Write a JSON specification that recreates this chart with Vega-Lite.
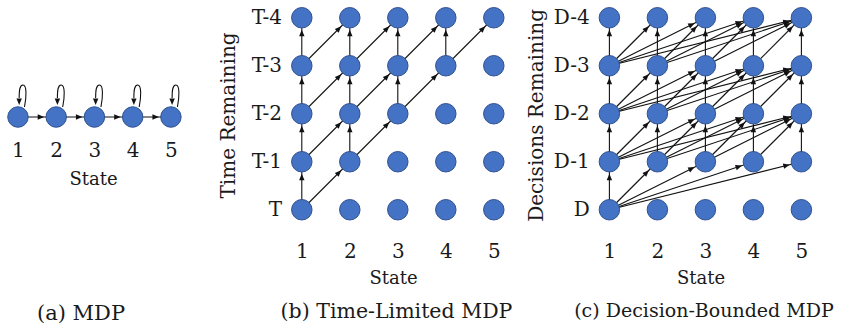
{
  "$schema": "https://vega.github.io/schema/vega-lite/v6.json",
  "padding": 0,
  "background": "white",
  "config": {
    "view": {"stroke": null},
    "font": "DejaVu Serif",
    "axis": {"labelFont": "DejaVu Serif", "titleFont": "DejaVu Serif", "labelFontSize": 20, "titleFontSize": 20, "titleFontWeight": "normal", "labelColor": "#1a1a1a", "titleColor": "#1a1a1a", "grid": false, "ticks": false, "tickSize": 0, "domain": false},
    "axisX": {"titleFontSize": 18},
    "title": {"font": "DejaVu Serif", "fontSize": 20, "fontWeight": "normal", "color": "#1a1a1a"}
  },
  "datasets": {
    "nodesA": [{"s":1,"l":0},{"s":2,"l":0},{"s":3,"l":0},{"s":4,"l":0},{"s":5,"l":0}],
    "edgesA": [{"s":1,"l":0,"s2":2,"l2":0},{"s":2,"l":0,"s2":3,"l2":0},{"s":3,"l":0,"s2":4,"l2":0},{"s":4,"l":0,"s2":5,"l2":0}],
    "nodes": [
      {"s":1,"l":0},{"s":2,"l":0},{"s":3,"l":0},{"s":4,"l":0},{"s":5,"l":0},
      {"s":1,"l":1},{"s":2,"l":1},{"s":3,"l":1},{"s":4,"l":1},{"s":5,"l":1},
      {"s":1,"l":2},{"s":2,"l":2},{"s":3,"l":2},{"s":4,"l":2},{"s":5,"l":2},
      {"s":1,"l":3},{"s":2,"l":3},{"s":3,"l":3},{"s":4,"l":3},{"s":5,"l":3},
      {"s":1,"l":4},{"s":2,"l":4},{"s":3,"l":4},{"s":4,"l":4},{"s":5,"l":4}
    ],
    "edgesB": [
      {"s":1,"l":0,"s2":1,"l2":1},{"s":1,"l":0,"s2":2,"l2":1},
      {"s":1,"l":1,"s2":1,"l2":2},{"s":1,"l":1,"s2":2,"l2":2},{"s":2,"l":1,"s2":2,"l2":2},{"s":2,"l":1,"s2":3,"l2":2},
      {"s":1,"l":2,"s2":1,"l2":3},{"s":1,"l":2,"s2":2,"l2":3},{"s":2,"l":2,"s2":2,"l2":3},{"s":2,"l":2,"s2":3,"l2":3},{"s":3,"l":2,"s2":3,"l2":3},{"s":3,"l":2,"s2":4,"l2":3},
      {"s":1,"l":3,"s2":1,"l2":4},{"s":1,"l":3,"s2":2,"l2":4},{"s":2,"l":3,"s2":2,"l2":4},{"s":2,"l":3,"s2":3,"l2":4},{"s":3,"l":3,"s2":3,"l2":4},{"s":3,"l":3,"s2":4,"l2":4},{"s":4,"l":3,"s2":4,"l2":4},{"s":4,"l":3,"s2":5,"l2":4}
    ],
    "edgesC": [
      {"s":1,"l":0,"s2":1,"l2":1},{"s":1,"l":0,"s2":2,"l2":1},{"s":1,"l":0,"s2":3,"l2":1},{"s":1,"l":0,"s2":4,"l2":1},{"s":1,"l":0,"s2":5,"l2":1},
      {"s":1,"l":1,"s2":1,"l2":2},{"s":1,"l":1,"s2":2,"l2":2},{"s":1,"l":1,"s2":3,"l2":2},{"s":1,"l":1,"s2":4,"l2":2},{"s":1,"l":1,"s2":5,"l2":2},
      {"s":2,"l":1,"s2":2,"l2":2},{"s":2,"l":1,"s2":3,"l2":2},{"s":2,"l":1,"s2":4,"l2":2},{"s":2,"l":1,"s2":5,"l2":2},
      {"s":3,"l":1,"s2":3,"l2":2},{"s":3,"l":1,"s2":4,"l2":2},{"s":3,"l":1,"s2":5,"l2":2},
      {"s":4,"l":1,"s2":4,"l2":2},{"s":4,"l":1,"s2":5,"l2":2},
      {"s":5,"l":1,"s2":5,"l2":2},
      {"s":1,"l":2,"s2":1,"l2":3},{"s":1,"l":2,"s2":2,"l2":3},{"s":1,"l":2,"s2":3,"l2":3},{"s":1,"l":2,"s2":4,"l2":3},{"s":1,"l":2,"s2":5,"l2":3},
      {"s":2,"l":2,"s2":2,"l2":3},{"s":2,"l":2,"s2":3,"l2":3},{"s":2,"l":2,"s2":4,"l2":3},{"s":2,"l":2,"s2":5,"l2":3},
      {"s":3,"l":2,"s2":3,"l2":3},{"s":3,"l":2,"s2":4,"l2":3},{"s":3,"l":2,"s2":5,"l2":3},
      {"s":4,"l":2,"s2":4,"l2":3},{"s":4,"l":2,"s2":5,"l2":3},
      {"s":5,"l":2,"s2":5,"l2":3},
      {"s":1,"l":3,"s2":1,"l2":4},{"s":1,"l":3,"s2":2,"l2":4},{"s":1,"l":3,"s2":3,"l2":4},{"s":1,"l":3,"s2":4,"l2":4},{"s":1,"l":3,"s2":5,"l2":4},
      {"s":2,"l":3,"s2":2,"l2":4},{"s":2,"l":3,"s2":3,"l2":4},{"s":2,"l":3,"s2":4,"l2":4},{"s":2,"l":3,"s2":5,"l2":4},
      {"s":3,"l":3,"s2":3,"l2":4},{"s":3,"l":3,"s2":4,"l2":4},{"s":3,"l":3,"s2":5,"l2":4},
      {"s":4,"l":3,"s2":4,"l2":4},{"s":4,"l":3,"s2":5,"l2":4},
      {"s":5,"l":3,"s2":5,"l2":4}
    ]
  },
  "spacing": 31.6,
  "hconcat": [
    {
      "width": 186.2,
      "height": 117,
      "title": {"text": "(a) MDP", "orient": "bottom", "anchor": "start", "dx": 37, "offset": 115, "fontSize": 21},
      "layer": [
        {
          "data": {"name": "edgesA"},
          "mark": {"type": "rule", "color": "#111", "strokeWidth": 1.1},
          "encoding": {
            "x": {"field": "s", "type": "quantitative", "scale": {"domain": [0.53, 5.4]}, "axis": {"values": [1,2,3,4,5], "format": "d", "title": "State", "labelPadding": 23, "titlePadding": 10}},
            "x2": {"field": "s2"},
            "y": {"field": "l", "type": "quantitative", "scale": {"domain": [0, 1]}, "axis": null},
            "y2": {"field": "l2"}
          }
        },
        {
          "data": {"name": "nodesA"},
          "mark": {"type": "point", "shape": "circle", "filled": true, "size": 420, "fill": "#4472C4", "stroke": "#2F528F", "strokeWidth": 1, "opacity": 1},
          "encoding": {
            "x": {"field": "s", "type": "quantitative", "scale": {"domain": [0.53, 5.4]}, "axis": {"values": [1,2,3,4,5], "format": "d", "title": "State", "labelPadding": 23, "titlePadding": 10}},
            "y": {"field": "l", "type": "quantitative", "scale": {"domain": [0, 1]}, "axis": null}
          }
        },
        {
          "data": {"name": "nodesA"},
          "mark": {"type": "point", "shape": "M6.5,-10C8.5,-20 9,-32 5,-32C1.5,-32 1.2,-26 1.2,-19", "filled": false, "color": "#111", "strokeWidth": 1.1, "size": 4, "opacity": 1},
          "encoding": {
            "x": {"field": "s", "type": "quantitative", "scale": {"domain": [0.53, 5.4]}, "axis": {"values": [1,2,3,4,5], "format": "d", "title": "State", "labelPadding": 23, "titlePadding": 10}},
            "y": {"field": "l", "type": "quantitative", "scale": {"domain": [0, 1]}, "axis": null}
          }
        },
        {
          "data": {"name": "nodesA"},
          "mark": {"type": "point", "shape": "M1.2,-12L-1.5,-18.5L3.9,-18.5Z", "filled": true, "color": "#111", "strokeWidth": 0, "size": 4, "opacity": 1},
          "encoding": {
            "x": {"field": "s", "type": "quantitative", "scale": {"domain": [0.53, 5.4]}, "axis": {"values": [1,2,3,4,5], "format": "d", "title": "State", "labelPadding": 23, "titlePadding": 10}},
            "y": {"field": "l", "type": "quantitative", "scale": {"domain": [0, 1]}, "axis": null}
          }
        },
        {
          "data": {"name": "edgesA"},
          "mark": {"type": "point", "shape": "M0,12L-2.7,18.5L2.7,18.5Z", "filled": true, "color": "#111", "strokeWidth": 0, "size": 4, "opacity": 1, "angle": {"expr": "atan2(datum.s2 - datum.s, datum.l2 - datum.l) * 180 / PI"}},
          "encoding": {
            "x": {"field": "s2", "type": "quantitative", "scale": {"domain": [0.53, 5.4]}, "axis": {"values": [1,2,3,4,5], "format": "d", "title": "State", "labelPadding": 23, "titlePadding": 10}},
            "y": {"field": "l2", "type": "quantitative", "scale": {"domain": [0, 1]}, "axis": null}
          }
        }
      ]
    },
    {
      "spacing": 13.6,
      "hconcat": [
        {
          "width": 220.8,
          "height": 229.9,
          "title": {"text": "(b) Time-Limited MDP", "orient": "bottom", "anchor": "start", "dx": 62, "offset": 14, "fontSize": 20.5},
          "layer": [
            {
              "data": {"name": "edgesB"},
              "mark": {"type": "rule", "color": "#111", "strokeWidth": 1.1},
              "encoding": {
                "x": {"field": "s", "type": "quantitative", "scale": {"domain": [0.6, 5.2]}, "axis": {"values": [1,2,3,4,5], "format": "d", "title": "State", "labelPadding": 12, "titlePadding": 8}},
                "x2": {"field": "s2"},
                "y": {"field": "l", "type": "quantitative", "scale": {"domain": [-0.42, 4.37]}, "axis": {"values": [0,1,2,3,4], "title": "Time Remaining", "labelExpr": "datum.value == 0 ? 'T' : 'T-' + datum.value", "labelPadding": 1, "titlePadding": 6, "minExtent": 38, "maxExtent": 38}},
                "y2": {"field": "l2"}
              }
            },
            {
              "data": {"name": "nodes"},
              "mark": {"type": "point", "shape": "circle", "filled": true, "size": 420, "fill": "#4472C4", "stroke": "#2F528F", "strokeWidth": 1, "opacity": 1},
              "encoding": {
                "x": {"field": "s", "type": "quantitative", "scale": {"domain": [0.6, 5.2]}, "axis": {"values": [1,2,3,4,5], "format": "d", "title": "State", "labelPadding": 12, "titlePadding": 8}},
                "y": {"field": "l", "type": "quantitative", "scale": {"domain": [-0.42, 4.37]}, "axis": {"values": [0,1,2,3,4], "title": "Time Remaining", "labelExpr": "datum.value == 0 ? 'T' : 'T-' + datum.value", "labelPadding": 1, "titlePadding": 6, "minExtent": 38, "maxExtent": 38}}
              }
            },
            {
              "data": {"name": "edgesB"},
              "mark": {"type": "point", "shape": "M0,12L-2.7,18.5L2.7,18.5Z", "filled": true, "color": "#111", "strokeWidth": 0, "size": 4, "opacity": 1, "angle": {"expr": "atan2(datum.s2 - datum.s, datum.l2 - datum.l) * 180 / PI"}},
              "encoding": {
                "x": {"field": "s2", "type": "quantitative", "scale": {"domain": [0.6, 5.2]}, "axis": {"values": [1,2,3,4,5], "format": "d", "title": "State", "labelPadding": 12, "titlePadding": 8}},
                "y": {"field": "l2", "type": "quantitative", "scale": {"domain": [-0.42, 4.37]}, "axis": {"values": [0,1,2,3,4], "title": "Time Remaining", "labelExpr": "datum.value == 0 ? 'T' : 'T-' + datum.value", "labelPadding": 1, "titlePadding": 6, "minExtent": 38, "maxExtent": 38}}
              }
            }
          ]
        },
        {
          "width": 220.8,
          "height": 229.9,
          "title": {"text": "(c) Decision-Bounded MDP", "orient": "bottom", "anchor": "start", "dx": 48, "offset": 14, "fontSize": 19},
          "layer": [
            {
              "data": {"name": "edgesC"},
              "mark": {"type": "rule", "color": "#111", "strokeWidth": 1.1},
              "encoding": {
                "x": {"field": "s", "type": "quantitative", "scale": {"domain": [0.6, 5.2]}, "axis": {"values": [1,2,3,4,5], "format": "d", "title": "State", "labelPadding": 12, "titlePadding": 8}},
                "x2": {"field": "s2"},
                "y": {"field": "l", "type": "quantitative", "scale": {"domain": [-0.42, 4.37]}, "axis": {"values": [0,1,2,3,4], "title": "Decisions Remaining", "labelExpr": "datum.value == 0 ? 'D' : 'D-' + datum.value", "labelPadding": 1, "titlePadding": 6, "minExtent": 38, "maxExtent": 38}},
                "y2": {"field": "l2"}
              }
            },
            {
              "data": {"name": "nodes"},
              "mark": {"type": "point", "shape": "circle", "filled": true, "size": 420, "fill": "#4472C4", "stroke": "#2F528F", "strokeWidth": 1, "opacity": 1},
              "encoding": {
                "x": {"field": "s", "type": "quantitative", "scale": {"domain": [0.6, 5.2]}, "axis": {"values": [1,2,3,4,5], "format": "d", "title": "State", "labelPadding": 12, "titlePadding": 8}},
                "y": {"field": "l", "type": "quantitative", "scale": {"domain": [-0.42, 4.37]}, "axis": {"values": [0,1,2,3,4], "title": "Decisions Remaining", "labelExpr": "datum.value == 0 ? 'D' : 'D-' + datum.value", "labelPadding": 1, "titlePadding": 6, "minExtent": 38, "maxExtent": 38}}
              }
            },
            {
              "data": {"name": "edgesC"},
              "mark": {"type": "point", "shape": "M0,12L-2.7,18.5L2.7,18.5Z", "filled": true, "color": "#111", "strokeWidth": 0, "size": 4, "opacity": 1, "angle": {"expr": "atan2(datum.s2 - datum.s, datum.l2 - datum.l) * 180 / PI"}},
              "encoding": {
                "x": {"field": "s2", "type": "quantitative", "scale": {"domain": [0.6, 5.2]}, "axis": {"values": [1,2,3,4,5], "format": "d", "title": "State", "labelPadding": 12, "titlePadding": 8}},
                "y": {"field": "l2", "type": "quantitative", "scale": {"domain": [-0.42, 4.37]}, "axis": {"values": [0,1,2,3,4], "title": "Decisions Remaining", "labelExpr": "datum.value == 0 ? 'D' : 'D-' + datum.value", "labelPadding": 1, "titlePadding": 6, "minExtent": 38, "maxExtent": 38}}
              }
            }
          ]
        }
      ]
    }
  ]
}
